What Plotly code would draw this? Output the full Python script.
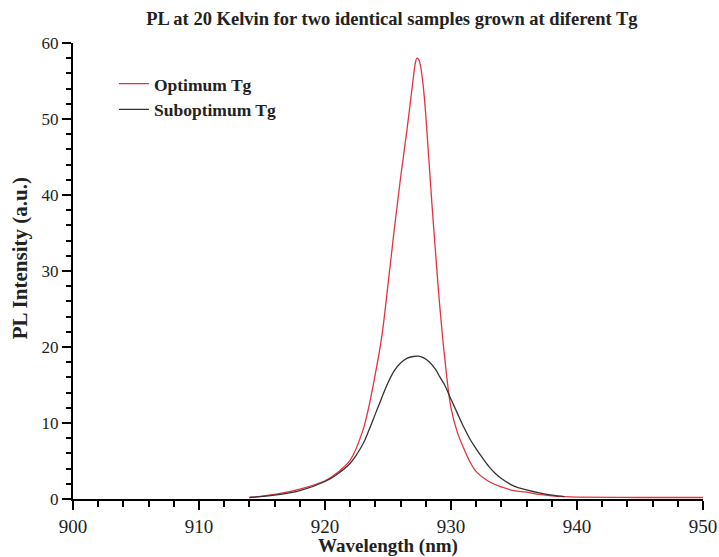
import plotly.graph_objects as go

# Optimum Tg (red)
wl_opt = [914.0, 916.0, 918.0, 920.0, 921.0, 922.0, 923.0, 923.5, 924.0, 924.5, 925.0, 925.5,
          926.0, 926.5, 927.0, 927.15, 927.3, 927.45, 927.6, 927.8, 928.0, 928.5, 929.0,
          929.5, 930.0, 930.5, 931.0, 931.5, 932.0, 933.0, 934.0, 935.0, 936.0, 937.0,
          938.0, 939.0, 940.0, 945.0, 950.0]
pl_opt = [0.2, 0.6, 1.3, 2.4, 3.5, 5.1, 9.0, 12.3, 16.5, 21.3, 28.2, 35.5,
          42.3, 48.5, 55.3, 57.2, 58.0, 57.8, 56.8, 54.3, 50.5, 38.5, 27.5,
          18.6, 12.0, 8.8, 6.7, 4.9, 3.6, 2.3, 1.6, 1.1, 0.9, 0.6,
          0.4, 0.3, 0.25, 0.2, 0.2]

# Suboptimum Tg (black)
wl_sub = [914.0, 916.0, 918.0, 920.0, 921.0, 922.0, 923.0, 923.5, 924.0, 924.5, 925.0, 925.5,
          926.0, 926.5, 927.0, 927.4, 927.8, 928.3, 928.8, 929.1, 929.5, 929.9, 930.5,
          931.0, 931.5, 932.0, 932.5, 933.0, 933.5, 934.0, 935.0, 936.0, 937.0, 938.0, 939.0]
pl_sub = [0.2, 0.5, 1.1, 2.3, 3.3, 4.7, 7.2, 9.1, 11.2, 13.3, 15.3, 16.9,
          17.9, 18.5, 18.75, 18.8, 18.6, 18.0, 17.0, 16.1, 15.0, 13.5, 11.3,
          9.5, 7.9, 6.6, 5.4, 4.3, 3.4, 2.7, 1.7, 1.2, 0.8, 0.5, 0.3]

x_ticks = [900, 910, 920, 930, 940, 950]
y_ticks = [0, 10, 20, 30, 40, 50, 60]

SERIF = "Liberation Serif, Times New Roman, serif"

fig = go.Figure()
fig.add_trace(go.Scatter(x=wl_opt, y=pl_opt, mode="lines", name="<b>Optimum Tg</b>",
                         line=dict(color="#e5323e", width=1.3, shape="spline", smoothing=1)))
fig.add_trace(go.Scatter(x=wl_sub, y=pl_sub, mode="lines", name="<b>Suboptimum Tg</b>",
                         line=dict(color="#333333", width=1.3, shape="spline", smoothing=1)))

axis_common = dict(showline=True, linecolor="black", linewidth=2, ticks="outside",
                   tickwidth=2, tickcolor="black", ticklen=9, showgrid=False, zeroline=False,
                   automargin=False)

fig.update_xaxes(range=[900, 950], tickvals=x_ticks, ticktext=[str(v) for v in x_ticks],
                 tickfont=dict(family=SERIF, size=19, color="#222"),
                 minor=dict(dtick=2, ticks="outside", ticklen=6, tickwidth=2, tickcolor="black",
                            showgrid=False),
                 title=dict(text="<b>Wavelength (nm)</b>", font=dict(family=SERIF, size=19, color="#222"),
                            standoff=2),
                 **axis_common)
fig.update_yaxes(range=[0, 60], tickvals=y_ticks, ticktext=[str(v) for v in y_ticks],
                 tickfont=dict(family=SERIF, size=17, color="#222"),
                 minor=dict(dtick=2, ticks="outside", ticklen=5, tickwidth=2, tickcolor="black",
                            showgrid=False),
                 **axis_common)

fig.add_annotation(text="<b>PL Intensity (a.u.)</b>", textangle=-90, showarrow=False,
                   xref="paper", yref="paper", x=-0.084, y=0.528, xanchor="center", yanchor="middle",
                   font=dict(family=SERIF, size=21, color="#222"))

fig.update_layout(
    width=719, height=557,
    margin=dict(l=73, r=16, t=43, b=58),
    paper_bgcolor="white", plot_bgcolor="white",
    title=dict(text="<b>PL at 20 Kelvin for two identical samples grown at diferent Tg</b>",
               font=dict(family=SERIF, size=18.5, color="#222"), x=0.545, xanchor="center",
               y=0.967, yanchor="middle"),
    legend=dict(x=0.065, y=0.95, xanchor="left", yanchor="top", bgcolor="rgba(0,0,0,0)",
                font=dict(family=SERIF, size=17.5, color="#222"), tracegroupgap=0),
    showlegend=True,
)

fig.write_html("out.html")
